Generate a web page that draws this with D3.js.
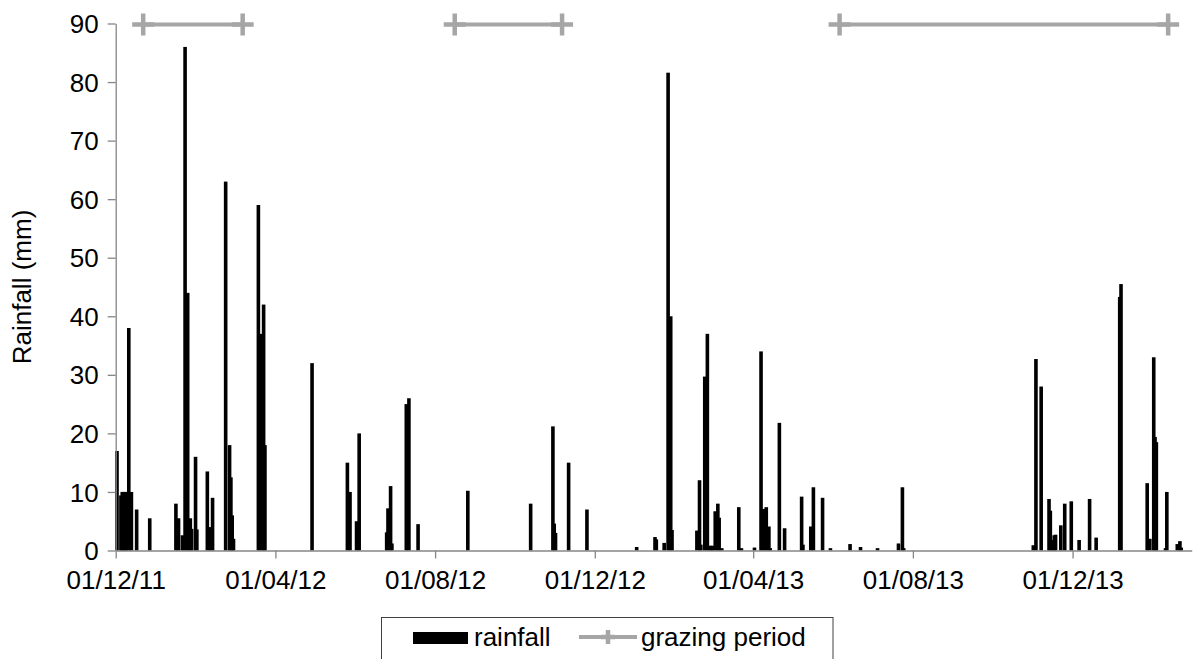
<!DOCTYPE html>
<html>
<head>
<meta charset="utf-8">
<script src="https://cdn.jsdelivr.net/npm/d3@7/dist/d3.min.js"></script>
<style>
html,body{margin:0;padding:0;background:#fff;}
svg{display:block;}
text{font-family:"Liberation Sans",Arial,sans-serif;fill:#000;}
</style>
</head>
<body>
<svg id="chart" width="1198" height="659"></svg>
<script>
// ---- data ----
const rainDates = [
"2011-12-02","2011-12-05","2011-12-06","2011-12-07","2011-12-08","2011-12-09","2011-12-11","2011-12-13","2011-12-17","2011-12-27",
"2012-01-16","2012-01-18","2012-01-21","2012-01-23","2012-01-25","2012-01-27","2012-01-28","2012-01-31","2012-02-01","2012-02-09",
"2012-02-11","2012-02-13","2012-02-23","2012-02-26","2012-02-27","2012-02-28","2012-02-29","2012-03-19","2012-03-21","2012-03-23",
"2012-03-24","2012-04-29","2012-05-26","2012-05-28","2012-06-02","2012-06-04","2012-06-25","2012-06-26","2012-06-28","2012-06-29",
"2012-07-10","2012-07-12","2012-07-19","2012-08-26","2012-10-13","2012-10-30","2012-10-31","2012-11-01","2012-11-11","2012-11-25",
"2013-01-02","2013-01-16","2013-01-17","2013-01-23","2013-01-26","2013-01-28","2013-01-29","2013-02-17","2013-02-19","2013-02-20",
"2013-02-23","2013-02-25","2013-02-27","2013-02-28","2013-03-01","2013-03-03","2013-03-05","2013-03-06","2013-03-08","2013-03-21",
"2013-03-23","2013-04-02","2013-04-07","2013-04-09","2013-04-11","2013-04-13","2013-04-14","2013-04-21","2013-04-25","2013-05-08",
"2013-05-09","2013-05-15","2013-05-17","2013-05-24","2013-05-30","2013-06-14","2013-06-22","2013-07-05","2013-07-21","2013-07-24",
"2013-07-25","2013-11-01","2013-11-03","2013-11-07","2013-11-13","2013-11-14","2013-11-16","2013-11-17","2013-11-18","2013-11-22",
"2013-11-25","2013-11-30","2013-12-06","2013-12-14","2013-12-19","2014-01-06","2014-01-07","2014-01-27","2014-01-29","2014-02-01",
"2014-02-02","2014-02-03","2014-02-10","2014-02-11","2014-02-19","2014-02-21","2014-02-22"
];
const rainValues = [
17,9.4,10,10,10,10,38,10,7,5.5,
8,5.5,2.6,86,44,5.5,3.7,16,3.6,13.5,
4,9,63,18,12.5,6,2,59,37,42,
18,32,15,10,5,20,3.1,7.2,11,1.2,
25,26,4.5,10.2,8,21.2,4.6,3,15,7,
0.6,2.3,1.9,1.3,81.6,40,3.5,3.4,12,1,
29.7,37,0.8,0.8,0.8,6.7,8,5.6,0.4,7.4,
0.4,0.5,34,7.1,7.4,4.1,0.4,21.8,3.8,9.2,
1,4.1,10.8,9,0.4,1.1,0.6,0.4,1.2,10.8,
0.4,0.9,32.7,28,8.8,6.8,1.8,2.6,2.7,4.3,
8,8.4,1.8,8.8,2.2,43.3,45.5,11.5,2,33,
19.4,18.5,0.4,10,1.1,1.6,0.5
];
const grazingStarts = ["2011-12-22","2012-08-16","2013-06-06"];
const grazingEnds   = ["2012-03-07","2012-11-06","2014-02-12"];
const grazingLevel = 90;
const xTickDates = ["2011-12-01","2012-04-01","2012-08-01","2012-12-01","2013-04-01","2013-08-01","2013-12-01"];
const yTicks = [0,10,20,30,40,50,60,70,80,90];
const xDomain = ["2011-12-01","2014-03-02"];
const seriesNames = ["rainfall","grazing period"];
const yTitle = "Rainfall (mm)";

// ---- setup ----
const parse = d3.utcParse("%Y-%m-%d");
const fmt = d3.utcFormat("%d/%m/%y");
const FS = "26px";
const svg = d3.select("#chart");
const mLeft = 115.7, mRight = 1191.7, mTop = 23.5, mBottom = 550.5;

const x = d3.scaleUtc().domain(xDomain.map(parse)).range([mLeft, mRight]);
const y = d3.scaleLinear().domain([0, 90]).range([mBottom, mTop]);

const rain = rainDates.map((d, i) => ({date: parse(d), v: rainValues[i]}));
const barW = 3.6;

// bars
svg.append("g").selectAll("rect").data(rain).join("rect")
  .attr("x", d => x(d.date) - barW / 2)
  .attr("y", d => y(d.v))
  .attr("width", barW)
  .attr("height", d => y(0) - y(d.v))
  .attr("fill", "#000");

// axes
const axisColor = "#868686";
const yAxis = svg.append("g").attr("transform", `translate(${mLeft},0)`)
  .call(d3.axisLeft(y).tickValues(yTicks).tickSize(8).tickSizeOuter(0).tickFormat(d3.format("d")));
const xAxis = svg.append("g").attr("transform", `translate(0,${mBottom})`)
  .call(d3.axisBottom(x).tickValues(xTickDates.map(parse)).tickSize(8).tickSizeOuter(0).tickFormat(fmt));
[yAxis, xAxis].forEach(a => {
  a.select(".domain").attr("stroke", axisColor).attr("stroke-width", 1.3);
  a.selectAll(".tick line").attr("stroke", axisColor).attr("stroke-width", 1.3);
  a.selectAll("text").style("font-family", '"Liberation Sans",Arial,sans-serif').style("font-size", FS).attr("fill", "#000");
});
yAxis.selectAll(".tick text").attr("x", -17).attr("dy", "0.35em");
xAxis.selectAll(".tick text").attr("y", 38.5).attr("dy", 0);

// y title
svg.append("text")
  .attr("transform", `translate(31,287) rotate(-90)`)
  .attr("text-anchor", "middle")
  .style("font-size", FS)
  .text(yTitle);

// grazing periods
const gray = "#A6A6A6";
function plus(g, cx, cy, h, sw) {
  g.append("path")
    .attr("d", `M${cx - h},${cy}H${cx + h}M${cx},${cy - h}V${cy + h}`)
    .attr("stroke", gray).attr("stroke-width", sw).attr("fill", "none");
}
const gg = svg.append("g");
grazingStarts.forEach((s, i) => {
  const x1 = x(parse(s)), x2 = x(parse(grazingEnds[i])), yy = y(grazingLevel) + 1;
  gg.append("line").attr("x1", x1).attr("x2", x2).attr("y1", yy).attr("y2", yy)
    .attr("stroke", gray).attr("stroke-width", 4);
  plus(gg, x1, yy, 11, 4.5);
  plus(gg, x2, yy, 11, 4.5);
});

// legend
const lg = svg.append("g");
lg.append("rect").attr("x", 381.5).attr("y", 617.5).attr("width", 451.5).attr("height", 60)
  .attr("fill", "#fff").attr("stroke", "#404040").attr("stroke-width", 1);
lg.append("rect").attr("x", 413).attr("y", 632).attr("width", 55).attr("height", 12).attr("fill", "#000");
lg.append("text").attr("x", 474).attr("y", 646).style("font-size", FS).text(seriesNames[0]);
lg.append("line").attr("x1", 579).attr("x2", 637).attr("y1", 637).attr("y2", 637).attr("stroke", gray).attr("stroke-width", 4);
plus(lg, 608, 637, 7, 4.5);
lg.append("text").attr("x", 641).attr("y", 646).style("font-size", FS).text(seriesNames[1]);
</script>
</body>
</html>
